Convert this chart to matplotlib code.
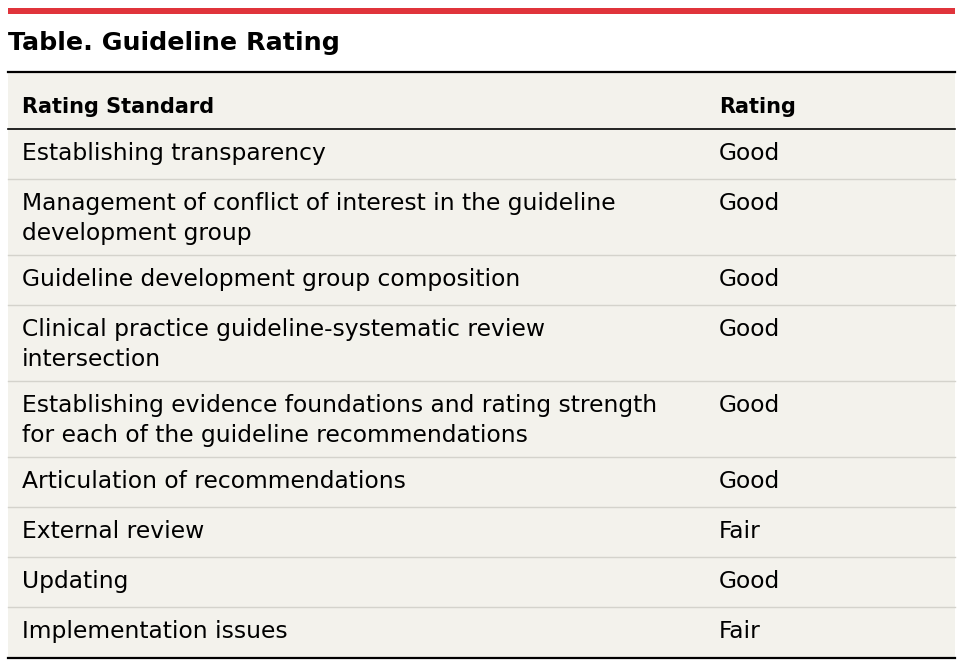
import matplotlib.pyplot as plt

title = "Table. Guideline Rating"
headers = ["Rating Standard", "Rating"]
standards = [
    "Establishing transparency",
    "Management of conflict of interest in the guideline\ndevelopment group",
    "Guideline development group composition",
    "Clinical practice guideline-systematic review\nintersection",
    "Establishing evidence foundations and rating strength\nfor each of the guideline recommendations",
    "Articulation of recommendations",
    "External review",
    "Updating",
    "Implementation issues",
]
ratings = ["Good", "Good", "Good", "Good", "Good", "Good", "Fair", "Good", "Fair"]

W, H = 963, 667
fig = plt.figure(figsize=(W / 100, H / 100), dpi=100)
ax = fig.add_axes([0, 0, 1, 1])
ax.set_xlim(0, W)
ax.set_ylim(H, 0)
ax.axis("off")

font = "DejaVu Sans"
fs = 16.8
bg = "#f3f2ec"
x0, x1 = 8, 955
line_h = 30

ax.add_patch(plt.Rectangle((x0, 8), x1 - x0, 6, color="#e0343b", lw=0))
ax.text(x0, 43, title, fontsize=18.3, fontweight="bold", family=font, va="center")
ax.add_patch(plt.Rectangle((x0, 72), x1 - x0, 658 - 72, color=bg, lw=0))
ax.plot([x0, x1], [72, 72], color="black", lw=1.6)

ax.text(22, 107, headers[0], fontsize=15, fontweight="bold", family=font, va="center")
ax.text(719, 107, headers[1], fontsize=15, fontweight="bold", family=font, va="center")
ax.plot([x0, x1], [128.5, 128.5], color="black", lw=1.2)

y = 128.5
for i, (s, r) in enumerate(zip(standards, ratings)):
    parts = s.split("\n")
    h = 50 if len(parts) == 1 else 76
    ty = y + 25
    for k, part in enumerate(parts):
        ax.text(22, ty + k * line_h, part, fontsize=fs, family=font, va="center")
    ax.text(719, ty, r, fontsize=fs, family=font, va="center")
    y += h
    if i < len(standards) - 1:
        ax.plot([x0, x1], [y, y], color="#d4d3cc", lw=1)
ax.plot([x0, x1], [658, 658], color="black", lw=1.6)

fig.savefig("out.png", dpi=100, facecolor="white")
